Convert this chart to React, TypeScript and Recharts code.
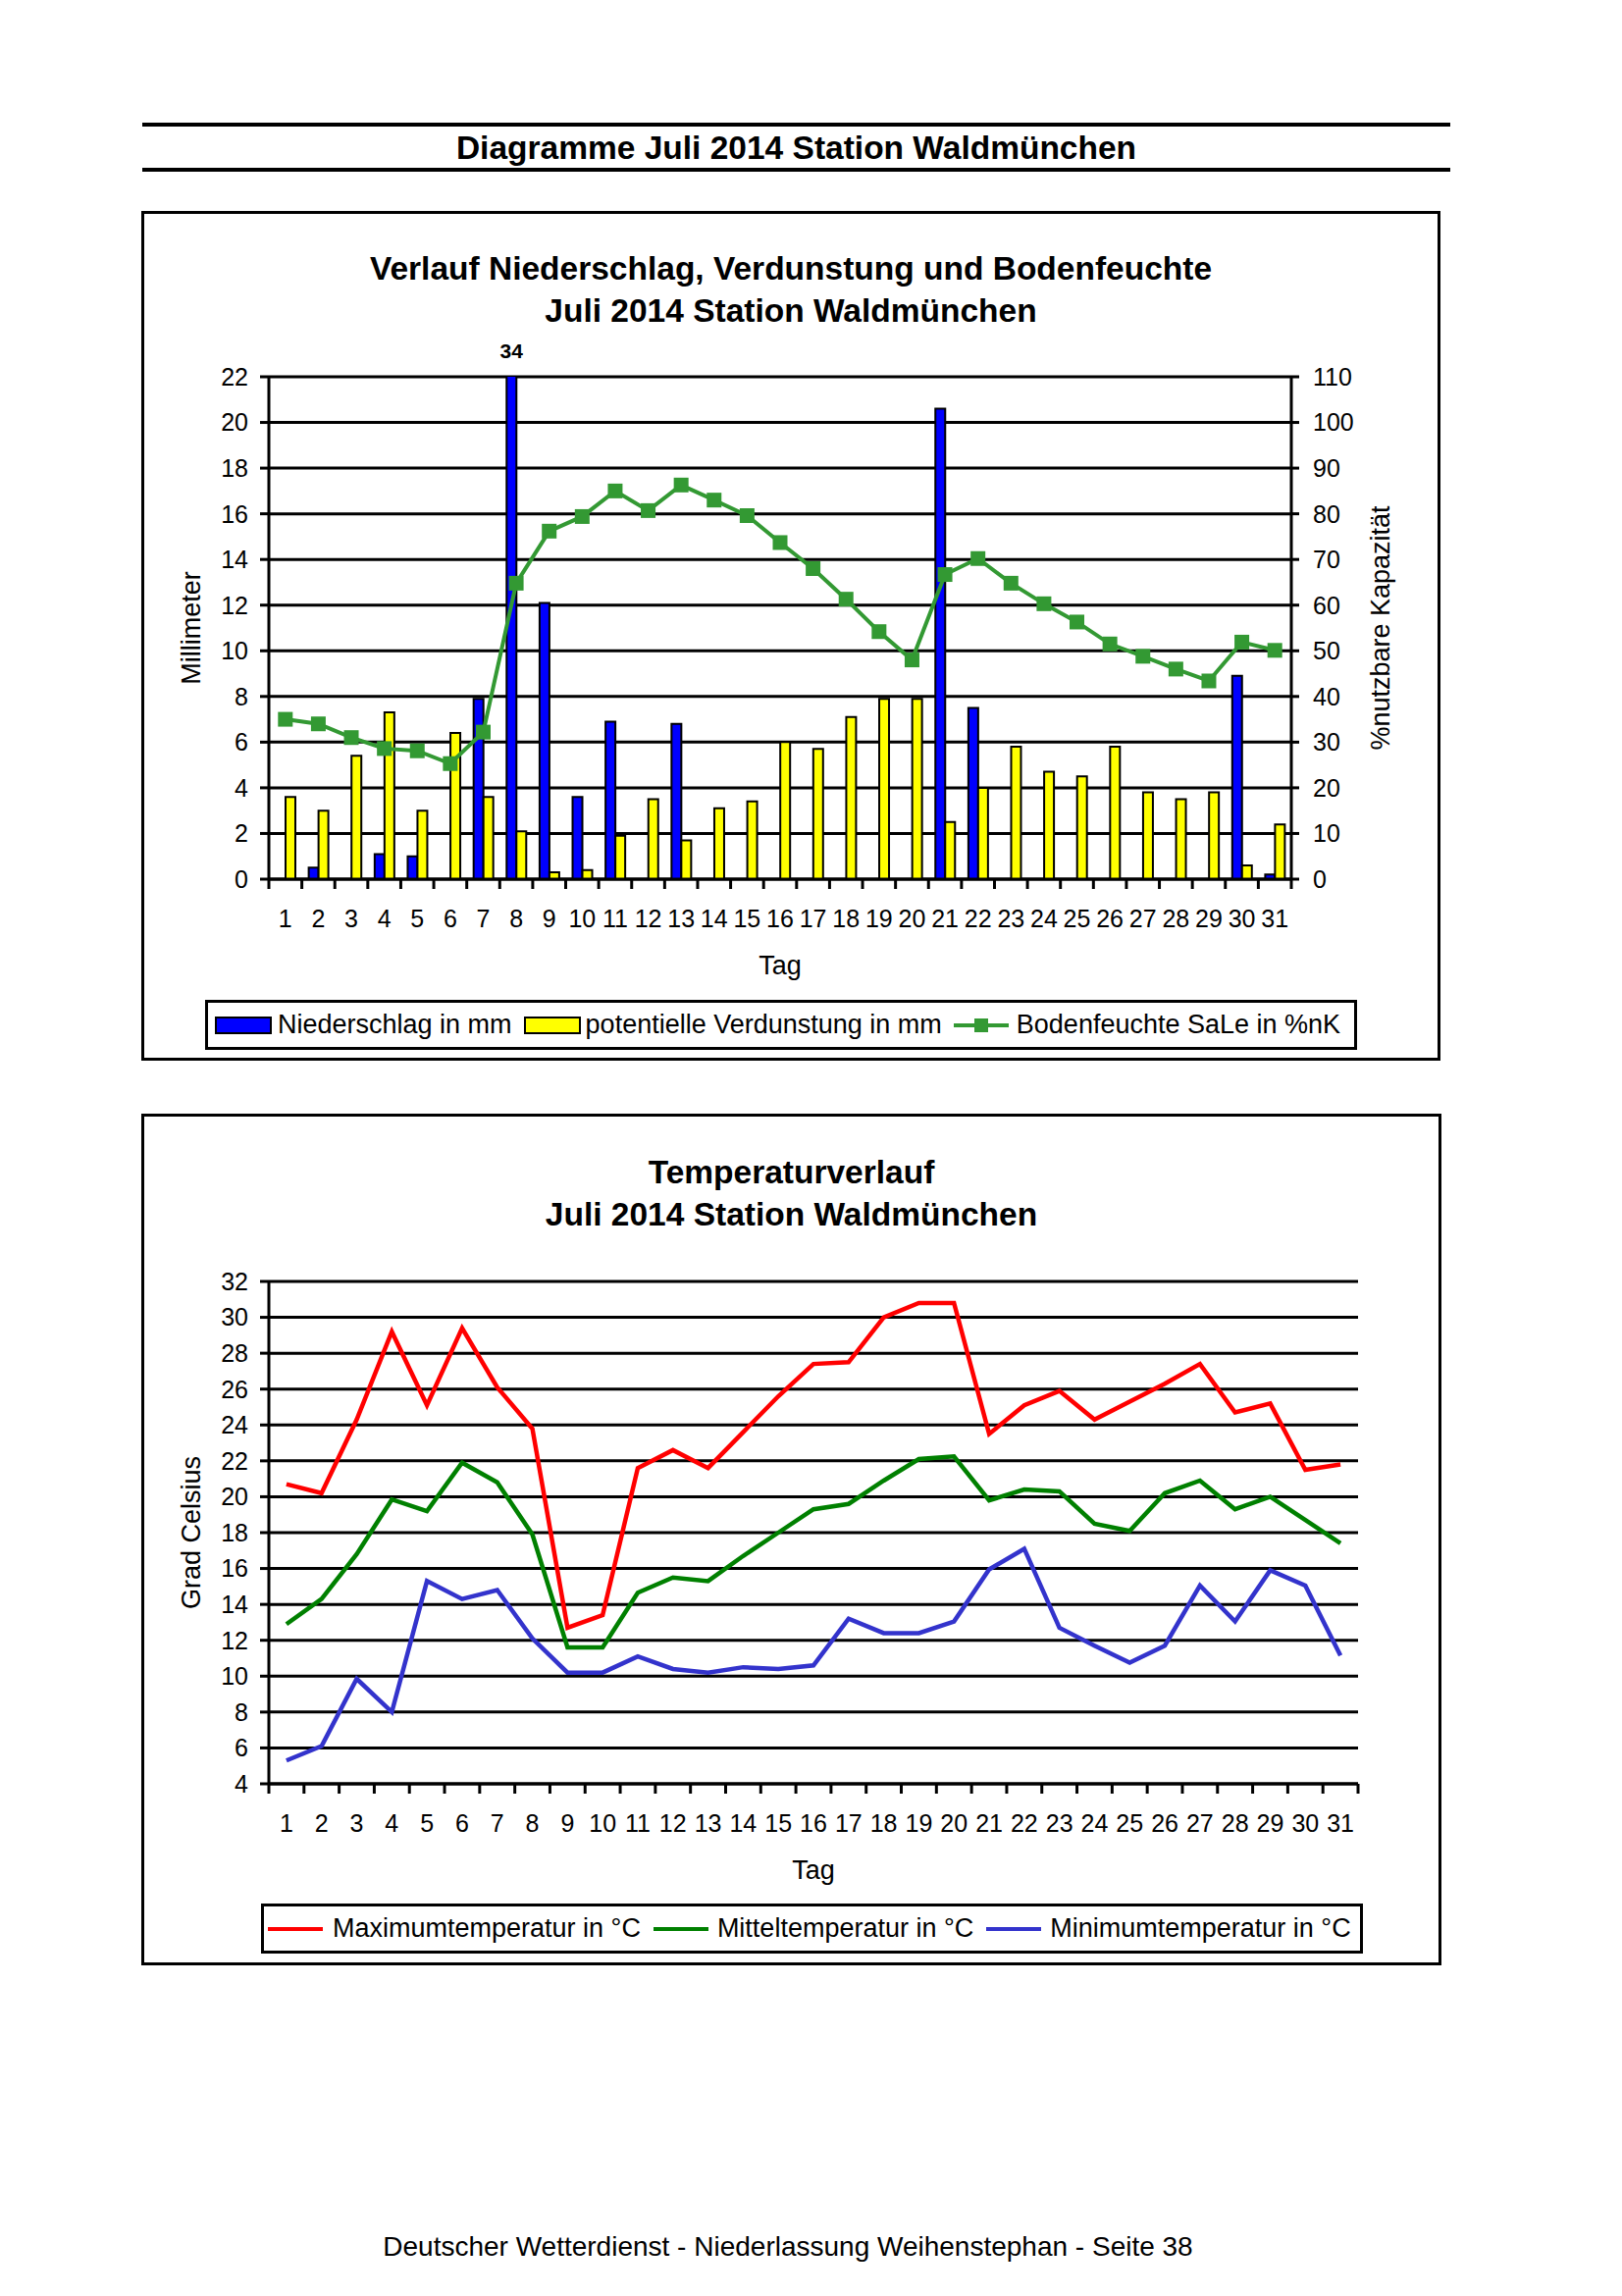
import React from 'react';
import { ComposedChart, Bar, Line, XAxis, YAxis, CartesianGrid, LabelList } from 'recharts';

// ---------- data ----------
const days = ['1','2','3','4','5','6','7','8','9','10','11','12','13','14','15','16','17','18','19','20','21','22','23','24','25','26','27','28','29','30','31'];
const niederschlag = [0, 0.5, 0, 1.1, 1.0, 0, 7.9, 34, 12.1, 3.6, 6.9, 0, 6.8, 0, 0, 0, 0, 0, 0, 0, 20.6, 7.5, 0, 0, 0, 0, 0, 0, 0, 8.9, 0.2];
const verdunstung = [3.6, 3.0, 5.4, 7.3, 3.0, 6.4, 3.6, 2.1, 0.3, 0.4, 1.9, 3.5, 1.7, 3.1, 3.4, 6.0, 5.7, 7.1, 7.9, 7.9, 2.5, 4.0, 5.8, 4.7, 4.5, 5.8, 3.8, 3.5, 3.8, 0.6, 2.4];
const bodenfeuchte = [35, 34, 31, 28.6, 28.1, 25.3, 32.2, 64.8, 76.2, 79.4, 85.0, 80.7, 86.3, 83.0, 79.6, 73.7, 68.0, 61.3, 54.2, 48.0, 66.7, 70.2, 64.8, 60.3, 56.3, 51.5, 48.8, 46.0, 43.4, 51.9, 50.1];

const tMax = [20.7, 20.2, 24.3, 29.2, 25.1, 29.4, 26.1, 23.8, 12.7, 13.4, 21.6, 22.6, 21.6, 23.6, 25.6, 27.4, 27.5, 30.0, 30.8, 30.8, 23.5, 25.1, 25.9, 24.3, 25.3, 26.3, 27.4, 24.7, 25.2, 21.5, 21.8];
const tMittel = [12.9, 14.3, 16.8, 19.85, 19.2, 21.9, 20.8, 17.9, 11.6, 11.6, 14.65, 15.5, 15.3, 16.7, 18.0, 19.3, 19.6, 20.9, 22.1, 22.25, 19.8, 20.4, 20.3, 18.5, 18.1, 20.2, 20.9, 19.3, 20.0, 18.7, 17.4];
const tMin = [5.3, 6.1, 9.85, 8.0, 15.3, 14.3, 14.8, 12.1, 10.2, 10.2, 11.1, 10.4, 10.2, 10.5, 10.4, 10.6, 13.2, 12.4, 12.4, 13.05, 15.95, 17.1, 12.7, 11.7, 10.75, 11.7, 15.05, 13.05, 15.9, 15.05, 11.15];

const mmTicks = [0, 2, 4, 6, 8, 10, 12, 14, 16, 18, 20, 22];
const pctTicks = [0, 10, 20, 30, 40, 50, 60, 70, 80, 90, 100, 110];
const tempTicks = [4, 6, 8, 10, 12, 14, 16, 18, 20, 22, 24, 26, 28, 30, 32];

const seriesNames1 = ['Niederschlag in mm', 'potentielle Verdunstung in mm', 'Bodenfeuchte SaLe in %nK'];
const seriesNames2 = ['Maximumtemperatur in °C', 'Mitteltemperatur in °C', 'Minimumtemperatur in °C'];

// ---------- styles ----------
const FONT = '"Liberation Sans", Arial, sans-serif';
const BLUE = '#0000ff';
const YELLOW = '#ffff00';
const GREEN1 = '#339933';
const RED = '#ff0000';
const GREEN2 = '#008000';
const BLUE2 = '#3333cc';

const data1 = days.map((d, i) => ({ day: d, nied: niederschlag[i], verd: verdunstung[i], boden: bodenfeuchte[i] }));
const data2 = days.map((d, i) => ({ day: d, max: tMax[i], mit: tMittel[i], min: tMin[i] }));

// chart 1 layout
const C1 = { left: 144, top: 215, w: 1324, h: 866 };
const M1 = { top: 169, right: 42, bottom: 145, left: 30 };
const YW1L = 100, YW1R = 110, XH = 40;
const P1W = C1.w - M1.left - M1.right - YW1L - YW1R;
const P1H = C1.h - M1.top - M1.bottom - XH;

// chart 2 layout
const C2 = { left: 144, top: 1135, w: 1325, h: 868 };
const M2 = { top: 171, right: 85, bottom: 145, left: 30 };
const YW2L = 100;
const P2W = C2.w - M2.left - M2.right - YW2L;

const TICK_LEN = 10, TICK_GAP = 21;

function DayTick(props: any) {
  const { x, y, payload, index, step, count } = props;
  const axisY = y - TICK_GAP - TICK_LEN;
  return (
    <g>
      <line x1={x - step / 2} x2={x - step / 2} y1={axisY} y2={axisY + TICK_LEN} stroke="#000" strokeWidth={3} />
      {index === count - 1 ? (
        <line x1={x + step / 2} x2={x + step / 2} y1={axisY} y2={axisY + TICK_LEN} stroke="#000" strokeWidth={3} />
      ) : null}
      <text x={x} y={y} dy="0.71em" textAnchor="middle" fontSize={25} fill="#000" fontFamily={FONT}>
        {payload.value}
      </text>
    </g>
  );
}

function OverflowLabel(props: any) {
  const { x, y, width, height, value } = props;
  if (value == null || value <= mmTicks[mmTicks.length - 1]) return null;
  const base = y + height;
  const topY = base - P1H;
  return (
    <text x={x + width / 2} y={topY - 19} textAnchor="middle" fontSize={21} fontWeight="bold" fill="#000" fontFamily={FONT}>
      {value}
    </text>
  );
}

function SquareDot(props: any) {
  const { cx, cy, index } = props;
  if (cx == null || cy == null) return <g key={index} />;
  return <rect key={index} x={cx - 7.5} y={cy - 7.5} width={15} height={15} fill={GREEN1} />;
}

const axisLine = { stroke: '#000', strokeWidth: 3 };
const tickLine = { stroke: '#000', strokeWidth: 3 };
const tickStyle = { fontSize: 25, fill: '#000', fontFamily: FONT };
const labelStyle = { fontSize: 27, fill: '#000', fontFamily: FONT, textAnchor: 'middle' as const };

function TopChart() {
  return (
    <ComposedChart width={C1.w} height={C1.h} data={data1} margin={M1} barGap={0} barSize={10}>
      <CartesianGrid horizontal vertical={false} stroke="#000" strokeWidth={3} />
      <XAxis
        dataKey="day"
        interval={0}
        height={XH}
        tickSize={TICK_LEN}
        tickMargin={TICK_GAP}
        tickLine={false}
        axisLine={axisLine}
        tick={<DayTick step={P1W / days.length} count={days.length} />}
        label={{ value: 'Tag', position: 'bottom', offset: 38, style: labelStyle }}
      />
      <YAxis
        domain={[0, 22]}
        ticks={mmTicks}
        interval={0}
        allowDataOverflow
        width={YW1L}
        tickSize={9}
        tickMargin={12}
        axisLine={axisLine}
        tickLine={tickLine}
        tick={tickStyle}
        label={{ value: 'Millimeter', angle: -90, position: 'insideLeft', offset: 20, style: labelStyle }}
      />
      <YAxis
        yAxisId="pct"
        orientation="right"
        domain={[0, 110]}
        ticks={pctTicks}
        interval={0}
        allowDataOverflow
        width={YW1R}
        tickSize={8}
        tickMargin={14}
        axisLine={axisLine}
        tickLine={tickLine}
        tick={tickStyle}
        label={{ value: '%nutzbare Kapazität', angle: -90, position: 'insideRight', offset: 20, style: labelStyle }}
      />
      <Bar dataKey="nied" name={seriesNames1[0]} fill={BLUE} stroke="#000" strokeWidth={2} isAnimationActive={false}>
        <LabelList dataKey="nied" content={<OverflowLabel />} />
      </Bar>
      <Bar dataKey="verd" name={seriesNames1[1]} fill={YELLOW} stroke="#000" strokeWidth={2} isAnimationActive={false} />
      <Line
        yAxisId="pct"
        dataKey="boden"
        name={seriesNames1[2]}
        stroke={GREEN1}
        strokeWidth={4}
        dot={<SquareDot />}
        activeDot={false}
        isAnimationActive={false}
      />
    </ComposedChart>
  );
}

function BottomChart() {
  return (
    <ComposedChart width={C2.w} height={C2.h} data={data2} margin={M2}>
      <CartesianGrid horizontal vertical={false} stroke="#000" strokeWidth={3} />
      <XAxis
        dataKey="day"
        scale="band"
        interval={0}
        height={XH}
        tickSize={TICK_LEN}
        tickMargin={TICK_GAP}
        tickLine={false}
        axisLine={axisLine}
        tick={<DayTick step={P2W / days.length} count={days.length} />}
        label={{ value: 'Tag', position: 'bottom', offset: 38, style: labelStyle }}
      />
      <YAxis
        domain={[4, 32]}
        ticks={tempTicks}
        interval={0}
        allowDataOverflow
        width={YW2L}
        tickSize={9}
        tickMargin={12}
        axisLine={axisLine}
        tickLine={tickLine}
        tick={tickStyle}
        label={{ value: 'Grad Celsius', angle: -90, position: 'insideLeft', offset: 20, style: labelStyle }}
      />
      <YAxis yAxisId="border" orientation="right" domain={[4, 32]} width={0} tick={false} tickLine={false} axisLine={axisLine} />
      <Line dataKey="max" name={seriesNames2[0]} stroke={RED} strokeWidth={4.5} dot={false} activeDot={false} isAnimationActive={false} />
      <Line dataKey="mit" name={seriesNames2[1]} stroke={GREEN2} strokeWidth={4.5} dot={false} activeDot={false} isAnimationActive={false} />
      <Line dataKey="min" name={seriesNames2[2]} stroke={BLUE2} strokeWidth={4.5} dot={false} activeDot={false} isAnimationActive={false} />
    </ComposedChart>
  );
}

const abs = (left: number, top: number, extra: React.CSSProperties = {}): React.CSSProperties => ({ position: 'absolute', left, top, ...extra });

function Swatch({ color }: { color: string }) {
  return <div style={{ width: 54, height: 14, background: color, border: '2px solid #000', flex: 'none' }} />;
}
function LineMark({ color, square }: { color: string; square?: boolean }) {
  return (
    <div style={{ width: 56, height: 14, position: 'relative', flex: 'none' }}>
      <div style={{ position: 'absolute', left: 0, top: 5, width: 56, height: 4, background: color }} />
      {square ? <div style={{ position: 'absolute', left: 21, top: 0, width: 14, height: 14, background: color }} /> : null}
    </div>
  );
}

export default function App() {
  const txt: React.CSSProperties = { fontSize: 27, whiteSpace: 'nowrap', color: '#000' };
  const titleFs = 33.5;
  return (
    <div style={{ position: 'absolute', left: 0, top: 0, width: 1653, height: 2340, background: '#fff', fontFamily: FONT, color: '#000' }}>
      {/* header */}
      <div style={abs(145, 125, { width: 1333, height: 4, background: '#000' })} />
      <div style={abs(145, 131, { width: 1333, lineHeight: '40px', fontSize: titleFs, fontWeight: 'bold', textAlign: 'center' })}>
        Diagramme Juli 2014 Station Waldmünchen
      </div>
      <div style={abs(145, 171, { width: 1333, height: 4, background: '#000' })} />

      {/* chart 1 */}
      <div style={abs(C1.left, C1.top, { width: C1.w, height: C1.h, border: '3px solid #000', boxSizing: 'border-box' })} />
      <div style={abs(C1.left, 251.5, { width: C1.w, lineHeight: '43px', fontSize: titleFs, fontWeight: 'bold', textAlign: 'center' })}>
        Verlauf Niederschlag, Verdunstung und Bodenfeuchte<br />Juli 2014 Station Waldmünchen
      </div>
      <div style={abs(C1.left, C1.top)}>
        <TopChart />
      </div>
      <div style={abs(209, 1019, { width: 1174, height: 51, border: '3px solid #000', boxSizing: 'border-box', display: 'flex', alignItems: 'center', paddingLeft: 7, background: '#fff' })}>
        <Swatch color={BLUE} />
        <span style={{ ...txt, marginLeft: 6 }}>{seriesNames1[0]}</span>
        <div style={{ marginLeft: 12 }}><Swatch color={YELLOW} /></div>
        <span style={{ ...txt, marginLeft: 5 }}>{seriesNames1[1]}</span>
        <div style={{ marginLeft: 12 }}><LineMark color={GREEN1} square /></div>
        <span style={{ ...txt, marginLeft: 8 }}>{seriesNames1[2]}</span>
      </div>

      {/* chart 2 */}
      <div style={abs(C2.left, C2.top, { width: C2.w, height: C2.h, border: '3px solid #000', boxSizing: 'border-box' })} />
      <div style={abs(C2.left, 1172.5, { width: C2.w, lineHeight: '43px', fontSize: titleFs, fontWeight: 'bold', textAlign: 'center' })}>
        Temperaturverlauf<br />Juli 2014 Station Waldmünchen
      </div>
      <div style={abs(C2.left, C2.top)}>
        <BottomChart />
      </div>
      <div style={abs(266, 1940, { width: 1123, height: 51, border: '3px solid #000', boxSizing: 'border-box', display: 'flex', alignItems: 'center', paddingLeft: 4, background: '#fff' })}>
        <LineMark color={RED} />
        <span style={{ ...txt, marginLeft: 10 }}>{seriesNames2[0]}</span>
        <div style={{ marginLeft: 13 }}><LineMark color={GREEN2} /></div>
        <span style={{ ...txt, marginLeft: 9 }}>{seriesNames2[1]}</span>
        <div style={{ marginLeft: 13 }}><LineMark color={BLUE2} /></div>
        <span style={{ ...txt, marginLeft: 9 }}>{seriesNames2[2]}</span>
      </div>

      {/* footer */}
      <div style={abs(303, 2270, { width: 1000, lineHeight: '40px', fontSize: 28, textAlign: 'center' })}>
        Deutscher Wetterdienst - Niederlassung Weihenstephan - Seite 38
      </div>
    </div>
  );
}
